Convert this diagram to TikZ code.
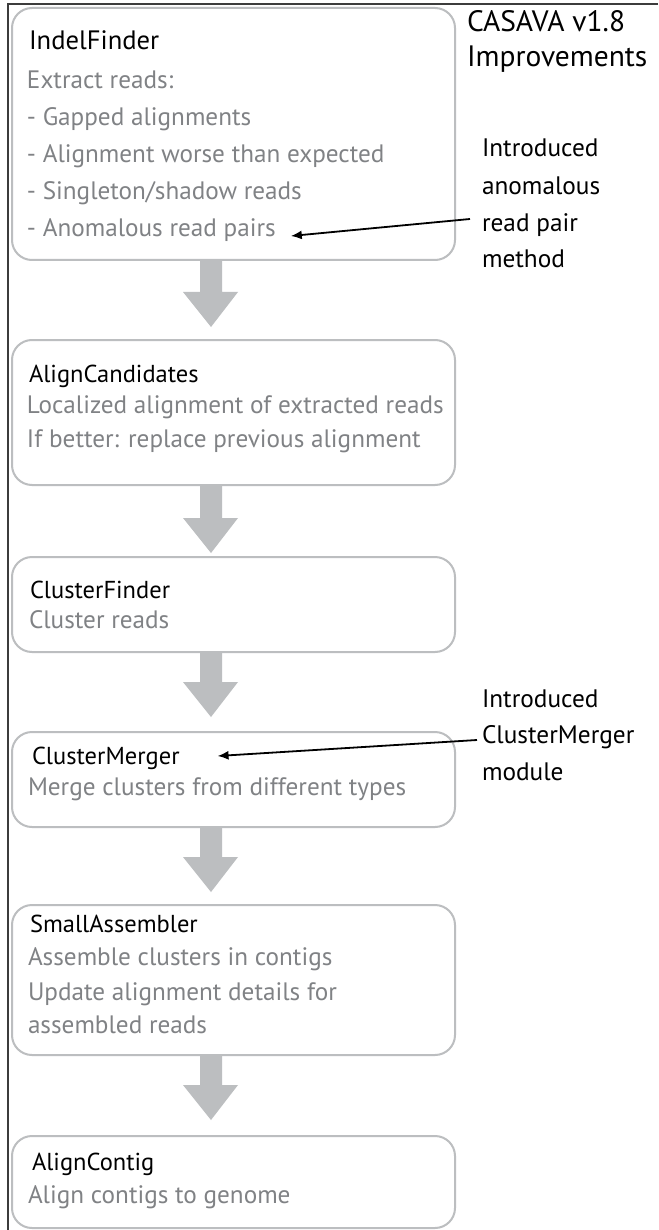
\documentclass[tikz,border=0pt]{standalone}
\usepackage{fontspec}
\setmainfont{PT Sans}
\usetikzlibrary{calc,arrows.meta}
\definecolor{boxgray}{HTML}{BCBEC0}
\definecolor{txtgray}{HTML}{808285}
\definecolor{framegray}{HTML}{3C3C3C}
\newcommand{\grayarrow}[3]{%
  \fill[fatarrow] let \p1=(#1.south), \p2=(#2.north) in
    (200pt,\y1) -- (222pt,\y1) -- (222pt,\y2+#3pt+35pt) -- (238pt,\y2+#3pt+35pt)
    -- (211pt,\y2+#3pt) -- (183pt,\y2+#3pt+35pt) -- (200pt,\y2+#3pt+35pt) -- cycle;}
\begin{document}
\begin{tikzpicture}[x=1pt,y=-1pt,
  box/.style={draw=boxgray, line width=2pt, rounded corners=20pt, minimum width=443pt, inner sep=0pt, outer sep=0pt},
  ttl/.style={anchor=base west, inner sep=0pt, outer sep=0pt, font=\fontsize{24.5}{28}\selectfont, text=black},
  bigttl/.style={ttl, font=\fontsize{26.6}{30}\selectfont},
  txt/.style={anchor=base west, inner sep=0pt, outer sep=0pt, font=\fontsize{25.2}{29}\selectfont, text=txtgray},
  lbl/.style={anchor=base west, inner sep=0pt, outer sep=0pt, font=\fontsize{25.3}{29}\selectfont, text=black},
  head/.style={lbl, font=\fontsize{29.5}{33}\selectfont},
  ptr/.style={line width=1.8pt, -{Latex[length=11pt,width=9pt]}},
  fatarrow/.style={fill=boxgray}]
\useasboundingbox (0,0) rectangle (658,1230);
\fill[white] (0,0) rectangle (658,1230);
% frame
\draw[framegray, line width=2pt] (658,4) -- (8,4) -- (8,1230);

% boxes
\node[box, minimum height=252pt] (b1) at (233.5,134) {};
\node[box, minimum height=145pt] (b2) at (233.5,412.5) {};
\node[box, minimum height=95pt]  (b3) at (233.5,604.5) {};
\node[box, minimum height=95pt]  (b4) at (233.5,779.5) {};
\node[box, minimum height=150pt] (b5) at (233.5,980) {};
\node[box, minimum height=92pt]  (b6) at (233.5,1182) {};

% gray arrows
\grayarrow{b1}{b2}{13}
\grayarrow{b2}{b3}{4}
\grayarrow{b3}{b4}{15}
\grayarrow{b4}{b5}{13}
\grayarrow{b5}{b6}{16}

% box 1
\node[bigttl] (t10) at (29,50) {IndelFinder};
\node[txt] (t11) at (27,89) {Extract reads:};
\node[txt] (t12) at (27,126) {- Gapped alignments};
\node[txt] (t13) at (27,163) {- Alignment worse than expected};
\node[txt] (t14) at (27,200) {- Singleton/shadow reads};
\node[txt] (t15) at (27,237) {- Anomalous read pairs};
% box 2
\node[ttl] (t20) at (29,382) {AlignCandidates};
\node[txt] (t21) at (27,413) {Localized alignment of extracted reads};
\node[txt] (t22) at (27,447) {If better: replace previous alignment};
% box 3
\node[ttl] (t30) at (30,598) {ClusterFinder};
\node[txt] (t31) at (29,628) {Cluster reads};
% box 4
\node[ttl] (t40) at (32,764) {ClusterMerger};
\node[txt] (t41) at (28,795) {Merge clusters from different types};
% box 5
\node[ttl] (t50) at (30,932) {SmallAssembler};
\node[txt] (t51) at (28,965) {Assemble clusters in contigs};
\node[txt] (t52) at (28,1000) {Update alignment details for};
\node[txt] (t53) at (28,1033) {assembled reads};
% box 6
\node[ttl] (t60) at (32,1170) {AlignContig};
\node[txt] (t61) at (28,1203) {Align contigs to genome};

% right side labels
\node[head] (h1) at (467,32) {CASAVA v1.8};
\node[head] (h2) at (467,67) {Improvements};
\node[lbl] (l11) at (482,157) {Introduced};
\node[lbl] (l12) at (482,195) {anomalous};
\node[lbl] (l13) at (482,232) {read pair};
\node[lbl] (l14) at (482,268) {method};
\node[lbl] (l21) at (482,707) {Introduced};
\node[lbl] (l22) at (482,743) {ClusterMerger};
\node[lbl] (l23) at (482,780) {module};

% pointers
\coordinate (c1) at (470,219);
\coordinate (c2) at (477,740);
\draw[ptr] (c1) -- ([xshift=15pt,yshift=1pt]t15.base east);
\draw[ptr] (c2) -- ([xshift=38pt,yshift=8pt]t40.base east);
\end{tikzpicture}
\end{document}
